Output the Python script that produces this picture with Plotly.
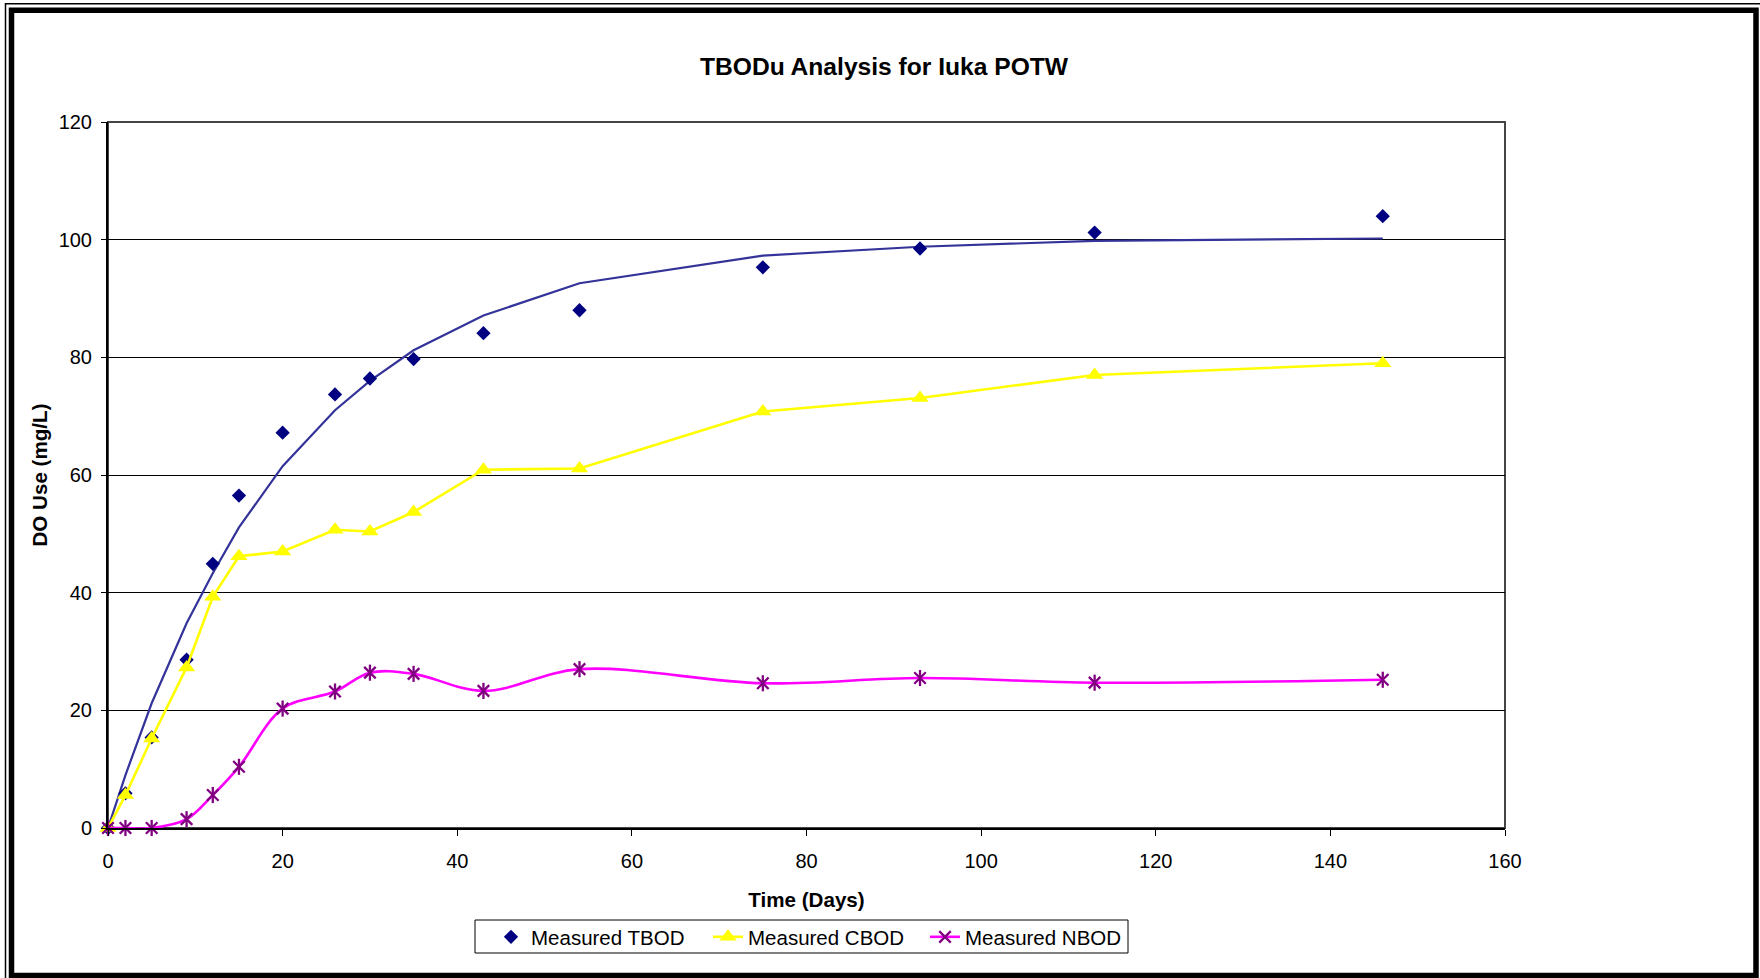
import plotly.graph_objects as go

# ---------------- data ----------------
days = [0, 2, 5, 9, 12, 15, 20, 26, 30, 35, 43, 54, 75, 93, 113, 146]
tbod_measured = [0, 5.9, 15.4, 28.6, 44.9, 56.5, 67.2, 73.7, 76.4, 79.7, 84.1, 88.0, 95.3, 98.5, 101.2, 104.0]
tbod_model = [0, 9.0, 21.2, 34.8, 43.3, 51.1, 61.5, 71.0, 76.0, 81.2, 87.1, 92.6, 97.3, 98.8, 99.8, 100.2]
cbod_measured = [0, 5.6, 15.2, 27.3, 39.3, 46.2, 47.0, 50.7, 50.4, 53.7, 60.9, 61.1, 70.8, 73.1, 77.0, 79.0]
nbod_measured = [0, 0, 0, 1.5, 5.6, 10.4, 20.3, 23.2, 26.4, 26.2, 23.3, 27.0, 24.6, 25.5, 24.7, 25.2]

series_names = ["Measured TBOD", "Measured CBOD", "Measured NBOD"]
x_ticks = [0, 20, 40, 60, 80, 100, 120, 140, 160]
y_ticks = [0, 20, 40, 60, 80, 100, 120]

title_text = "TBODu Analysis for Iuka POTW"
x_title = "Time (Days)"
y_title = "DO Use (mg/L)"

# ---------------- layout geometry (pixels) ----------------
W, H = 1760, 978
PL, PR, PT, PB = 108, 1505, 122, 828  # plot area edges
FONT = "Liberation Sans, Arial, sans-serif"


def px(xp):
    return (xp - PL) / (PR - PL)


def py(yp):
    return (PB - yp) / (PB - PT)


fig = go.Figure()

# fitted TBOD curve (no legend entry)
fig.add_trace(go.Scatter(
    x=days, y=tbod_model, mode="lines", showlegend=False,
    line=dict(color="#333399", width=2.2), hoverinfo="skip", cliponaxis=False))

fig.add_trace(go.Scatter(
    x=days, y=tbod_measured, mode="markers", name=series_names[0],
    marker=dict(symbol="diamond", size=11, color="#000080"), cliponaxis=False))

fig.add_trace(go.Scatter(
    x=days, y=cbod_measured, mode="lines+markers", name=series_names[1],
    line=dict(color="#FFFF00", width=2.6),
    marker=dict(symbol="triangle-up", size=15, color="#FFFF00"), cliponaxis=False))

fig.add_trace(go.Scatter(
    x=days, y=nbod_measured, mode="lines+markers", name=series_names[2],
    line=dict(color="#FF00FF", width=2.6, shape="spline", smoothing=1.0),
    marker=dict(symbol="x-thin", size=11.5, color="#800080",
                line=dict(color="#800080", width=2.3)), cliponaxis=False))

fig.add_trace(go.Scatter(
    x=days, y=nbod_measured, mode="markers", showlegend=False, hoverinfo="skip",
    marker=dict(symbol="line-ns", size=11.5, color="#800080",
                line=dict(color="#800080", width=2.3)), cliponaxis=False))

shapes = [
    # plot-area frame (grey top/right)
    dict(type="rect", xref="paper", yref="paper", x0=0, x1=1, y0=0, y1=1,
         line=dict(color="#444444", width=2), layer="below"),
    # legend box
    dict(type="rect", xref="paper", yref="paper",
         x0=px(475), x1=px(1128), y0=py(953), y1=py(920),
         line=dict(color="black", width=1), fillcolor="white", layer="below"),
    # thick chart border
    dict(type="rect", xref="paper", yref="paper",
         x0=px(11.5), x1=px(1756), y0=py(975.5), y1=py(10.3),
         line=dict(color="black", width=5.5), layer="above"),
    # thin outer border
    dict(type="rect", xref="paper", yref="paper",
         x0=px(5.5), x1=px(1775), y0=py(995), y1=py(3.8),
         line=dict(color="black", width=1.5), layer="above"),
]

fig.update_layout(
    width=W, height=H,
    margin=dict(l=PL, r=W - PR, t=PT, b=H - PB, autoexpand=False),
    paper_bgcolor="white", plot_bgcolor="white",
    font=dict(family=FONT, size=20, color="black"),
    title=dict(text=title_text, x=884 / W, y=1 - 66 / H, xref="container", yref="container",
               xanchor="center", yanchor="middle",
               font=dict(family=FONT, size=24.6, color="black", weight="bold")),
    showlegend=True,
    legend=dict(orientation="h", x=px(491), y=py(937), xanchor="left", yanchor="middle",
                borderwidth=0, bgcolor="rgba(0,0,0,0)",
                font=dict(family=FONT, size=20.5, color="black"),
                itemwidth=30, traceorder="normal",
                entrywidth=172, entrywidthmode="pixels"),
    shapes=shapes,
    xaxis=dict(range=[0, 160], tickvals=x_ticks, ticktext=[str(v) for v in x_ticks],
               showgrid=False, zeroline=False, showline=True, linecolor="black", linewidth=2,
               ticks="outside", ticklen=6, tickwidth=1, tickcolor="black",
               ticklabelstandoff=8,
               tickfont=dict(family=FONT, size=20, color="black"),
               title=dict(text=x_title, standoff=22,
                          font=dict(family=FONT, size=20.6, color="black", weight="bold")),
               automargin=False),
    yaxis=dict(range=[0, 120], tickvals=y_ticks, ticktext=[str(v) for v in y_ticks],
               showgrid=True, gridcolor="black", gridwidth=1, zeroline=False,
               showline=True, linecolor="black", linewidth=2,
               ticks="outside", ticklen=5, tickwidth=1, tickcolor="black",
               ticklabelstandoff=5,
               tickfont=dict(family=FONT, size=20, color="black"),
               title=dict(text=y_title, standoff=5,
                          font=dict(family=FONT, size=20.6, color="black", weight="bold")),
               automargin=False),
)

fig.write_html("out.html",
               config={"displayModeBar": False},
               post_script="document.body.style.margin='0';document.body.style.overflow='hidden';")
